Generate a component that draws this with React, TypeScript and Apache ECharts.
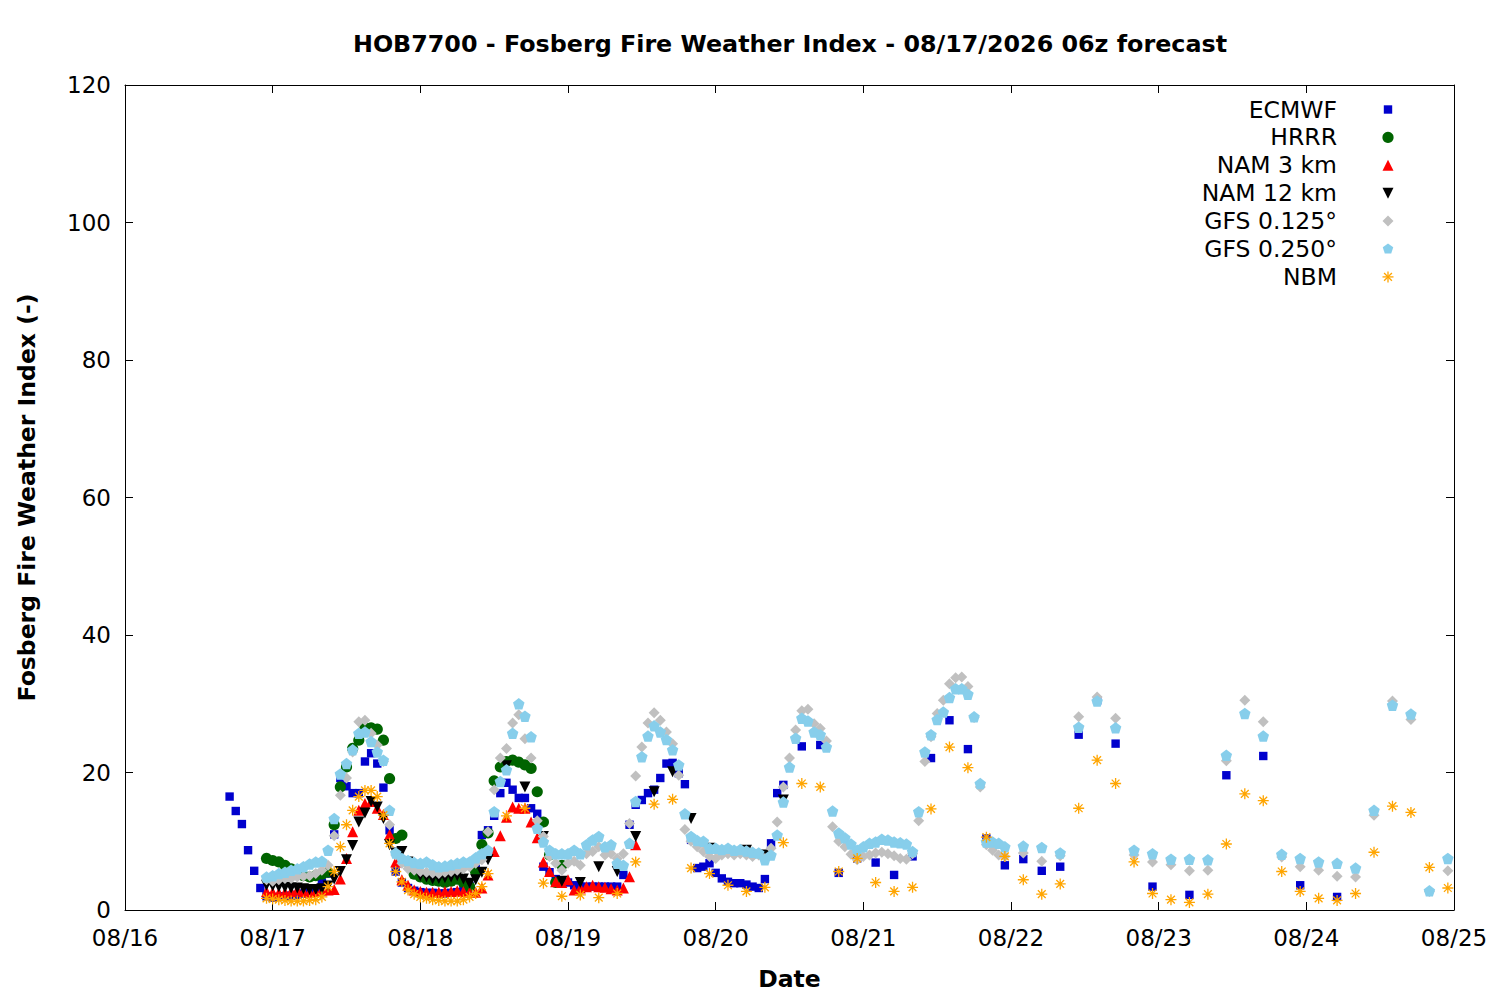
import React, { useEffect, useRef } from 'react';
import * as echarts from 'echarts';

// x values are hours since 08/16 00:00 (local)
const X_TICK_LABELS = ['08/16', '08/17', '08/18', '08/19', '08/20', '08/21', '08/22', '08/23', '08/24', '08/25'];
const TITLE = 'HOB7700 - Fosberg Fire Weather Index - 08/17/2026 06z forecast';

const NAMES = ['ECMWF', 'HRRR', 'NAM 3 km', 'NAM 12 km', 'GFS 0.125°', 'GFS 0.250°', 'NBM'];
const COLORS = ['#0000cd', '#006400', '#ff0000', '#000000', '#c0c0c0', '#87ceeb', '#ffa500'];

// ECMWF
const ECMWF_1H_START = 17;
const ECMWF_1H = [
  16.5, 14.4, 12.5, 8.7, 5.7, 3.2, 2.0, 1.8, 1.9, 2.0,
  2.1, 2.2, 2.4, 2.6, 3.0, 4.0, 5.3, 11.0, 19.2, 18.0,
  17.0, 17.0, 21.6, 22.8, 21.3, 17.8, 11.6, 5.6, 4.0, 3.2,
  2.8, 2.6, 2.5, 2.5, 2.4, 2.4, 2.5, 2.6, 3.0, 3.5,
  6.0, 10.9, 11.6, 13.7, 17.0, 18.5, 17.5, 16.3, 16.3, 14.8,
  14.0, 6.3, 5.5, 4.5, 4.0, 4.0, 3.6, 3.4, 3.4, 3.4,
  3.4, 3.4, 3.4, 3.4, 5.1, 12.4, 15.3, 16.0, 17.0, 17.5,
  19.2, 21.3, 21.4, 19.9, 18.3, 10.2, 6.1, 6.3, 6.8, 5.4,
  4.6, 4.1, 3.9, 3.9, 3.7, 3.4, 3.2, 4.5, 9.7, 17.0,
  18.2,
];
const ECMWF_3H_START = 110;
const ECMWF_3H = [23.8, 24.0, 5.4, 7.5, 6.9, 5.1, 7.8, 22.1, 27.6, 23.4, 10.4, 6.5, 7.4, 5.7, 6.3, 25.5, 30.5, 24.2];
const ECMWF_6H_START = 167;
const ECMWF_6H = [3.4, 2.2, 19.6, 22.4, 3.6, 1.9];

// HRRR
const HRRR_1H_START = 23;
const HRRR_1H = [
  7.5, 7.2, 7.0, 6.5, 6.0, 5.5, 5.0, 4.8, 5.0, 5.2,
  5.5, 12.4, 17.9, 20.8, 23.5, 24.7, 26.5, 26.5, 26.3, 24.7,
  19.1, 10.4, 10.9, 7.0, 5.2, 4.8, 4.5, 4.3, 4.2, 4.0,
  4.2, 4.5, 4.0, 3.4, 5.5, 9.5, 11.2, 18.8, 20.8, 21.6,
  21.8, 21.5, 21.1, 20.6, 17.2, 12.8, 8.0, 4.0, 6.5,
];

// NAM 3 km
const NAM3_1H_START = 23;
const NAM3_1H = [
  2.7, 2.6, 2.5, 2.6, 2.7, 2.9, 2.7, 2.6, 2.7, 2.9,
  2.9, 3.0, 4.5, 7.5, 11.4, 14.5, 15.5, 15.8, 14.8, 13.9,
  11.0, 7.0, 4.4, 3.6, 2.9, 2.7, 2.6, 2.6, 2.6, 2.7,
  2.7, 2.8, 2.7, 2.6, 2.6, 3.2, 5.1, 8.5, 10.8, 13.5,
  15.0, 14.8, 14.8, 12.8, 10.5, 7.0, 5.6, 4.1, 4.0, 4.4,
  2.9, 3.2, 3.4, 3.6, 3.4, 3.3, 3.1, 2.9, 3.2, 4.85, 9.5,
];

// NAM 12 km
const NAM12_1H_START = 23;
const NAM12_1H = [
  3.6, 3.5, 3.4, 3.3, 3.2, 3.2, 3.1, 3.0, 3.0, 3.1,
  3.5, 4.5, 5.6, 7.3, 9.4, 12.8, 14.1, 15.8, 15.0, 13.3,
  9.5, 8.3, 8.5, 7.0, 6.0, 5.0, 4.8, 4.5, 4.6, 4.7,
  4.8, 5.0, 4.5, 3.9, 4.4, 5.5, 7.3,
];
const NAM12_3H_START = 62;
const NAM12_3H = [21.0, 17.9, 10.7, 4.2, 4.0, 6.3, 5.6, 10.7, 17.2, 20.1, 13.3, 9.0, 8.5, 8.7, 8.0, 16.0];

// GFS 0.125
const GFS125_1H_START = 23;
const GFS125_1H = [
  4.4, 4.2, 4.4, 4.6, 4.6, 4.8, 4.9, 5.0, 5.3, 5.8,
  6.5, 10.8, 16.7, 19.2, 23.0, 27.4, 27.6, 25.7, 24.0, 21.6,
  12.4, 8.0, 6.8, 6.0, 5.8, 5.6, 5.5, 5.4, 5.3, 5.5,
  5.6, 5.8, 6.0, 6.3, 6.8, 7.3, 11.4, 17.5, 22.1, 23.5,
  27.2, 28.4, 24.9, 22.1, 13.0, 10.7, 7.8, 6.8, 5.8, 6.8,
  7.1, 6.5, 8.2, 8.5, 9.2, 8.0, 8.2, 7.5, 8.2, 12.6,
  19.5, 23.7, 27.2, 28.7, 27.6, 25.9, 24.2, 19.6, 11.7, 10.0,
  9.2, 8.5, 7.8, 7.5, 8.0, 8.2, 8.0, 8.2, 8.0, 7.8,
  8.0, 7.5, 9.0, 12.8, 17.9, 22.1, 26.2, 29.0, 29.2, 27.1,
  26.4, 24.6, 12.1, 10.0, 9.2, 8.1, 7.3, 7.8, 8.0, 8.3,
  8.4, 8.2, 7.9, 7.5, 7.4, 8.2, 13.0, 21.6, 25.2, 28.6,
  30.5, 32.9, 33.8, 33.9, 32.5, 28.0, 17.9, 9.5, 8.7, 8.0,
  7.8,
];
const GFS125_3H_START = 146;
const GFS125_3H = [
  8.3, 7.1, 7.9, 28.1, 31.0, 27.9, 8.0, 7.0, 6.6, 5.7, 5.8, 21.7,
  30.5, 27.4, 7.7, 6.3, 5.8, 4.9, 4.8, 13.8, 30.4, 27.7, 2.7, 5.7,
];

// GFS 0.250
const GFS250_1H_START = 23;
const GFS250_1H = [
  4.8, 5.0, 5.3, 5.5, 5.8, 6.0, 6.3, 6.7, 7.0, 7.1,
  8.7, 13.3, 19.8, 21.3, 23.3, 25.7, 25.9, 24.5, 23.0, 21.8,
  14.5, 8.3, 7.5, 7.2, 6.9, 6.8, 7.0, 6.6, 6.3, 6.4,
  6.6, 6.8, 7.0, 7.0, 7.6, 8.2, 8.7, 14.3, 18.7, 20.4,
  25.7, 30.0, 28.2, 25.2, 11.9, 9.9, 8.7, 8.2, 8.2, 8.2,
  8.7, 8.2, 9.5, 10.2, 10.7, 9.2, 9.5, 6.8, 6.5, 9.7,
  15.8, 22.3, 25.3, 26.8, 25.9, 24.8, 23.3, 21.1, 14.0, 10.7,
  10.1, 10.0, 9.0, 9.0, 8.8, 9.0, 8.7, 8.8, 8.6, 8.4,
  8.3, 7.3, 8.0, 10.9, 15.7, 20.8, 25.0, 27.9, 27.5, 25.9,
  25.5, 23.7, 14.4, 11.2, 10.5, 9.6, 8.7, 9.2, 9.7, 9.9,
  10.3, 10.2, 9.9, 9.8, 9.6, 8.5, 14.3, 23.0, 25.5, 27.7,
  28.8, 30.9, 32.2, 32.2, 31.4, 28.1, 18.4, 9.9, 9.9, 9.7,
  9.2,
];
const GFS250_3H_START = 146;
const GFS250_3H = [
  9.3, 9.1, 8.3, 26.6, 30.4, 26.5, 8.7, 8.2, 7.4, 7.4, 7.3, 22.5,
  28.6, 25.3, 8.1, 7.5, 7.0, 6.8, 6.1, 14.5, 29.8, 28.5, 2.8, 7.5,
];

// NBM
const NBM_1H_START = 23;
const NBM_1H = [
  1.7, 1.6, 1.5, 1.4, 1.3, 1.3, 1.3, 1.4, 1.5, 1.9,
  3.4, 5.6, 9.2, 12.4, 14.5, 16.5, 17.4, 17.4, 16.5, 13.8,
  9.7, 5.6, 4.1, 2.9, 2.3, 1.9, 1.7, 1.5, 1.4, 1.3,
  1.3, 1.3, 1.5, 1.9, 2.4, 3.4, 5.3,
];
const NBM_3H_START = 62;
const NBM_3H = [
  13.7, 14.8, 3.9, 2.0, 2.2, 1.8, 2.4, 7.0, 15.4, 16.1,
  6.1, 5.3, 3.6, 2.7, 3.3, 9.8, 18.4, 17.9, 5.6, 7.5,
  4.0, 2.7, 3.3, 14.7, 23.7, 20.7, 10.6, 7.8, 4.4, 2.3,
  3.8, 14.8, 21.8, 18.4, 7.0, 2.4, 1.5, 1.1, 2.3, 9.6,
  16.9, 15.9, 5.6, 2.7, 1.7, 1.4, 2.4, 8.4, 15.1, 14.2,
  6.2, 3.2,
];

const seg = (start: number, step: number, vals: number[]) => vals.map((v, i) => [start + i * step, v]);

const FONT = '"DejaVu Sans", sans-serif';
const PENTAGON = 'path://M0,-10L9.511,-3.09L5.878,8.09L-5.878,8.09L-9.511,-3.09Z';
const ASTERISK = 'path://M-10,0L10,0M0,-10L0,10M-7.07,-7.07L7.07,7.07M-7.07,7.07L7.07,-7.07';

function legendGraphics() {
  const cx = 1388;
  const textRight = 1337;
  const y0 = 109.5;
  const dy = 27.9;
  const els: any[] = [];
  NAMES.forEach((name, i) => {
    const y = y0 + i * dy;
    els.push({
      type: 'text',
      x: textRight,
      y,
      style: { text: name, font: '23.5px ' + FONT, fill: '#000', textAlign: 'right', textVerticalAlign: 'middle' },
    });
    const c = COLORS[i];
    const r = 5.5;
    if (i === 0) {
      els.push({ type: 'rect', shape: { x: cx - 4.2, y: y - 4.2, width: 8.4, height: 8.4 }, style: { fill: c } });
    } else if (i === 1) {
      els.push({ type: 'circle', shape: { cx, cy: y, r: 5.6 }, style: { fill: c } });
    } else if (i === 2) {
      els.push({ type: 'polygon', shape: { points: [[cx, y - r], [cx + r, y + r], [cx - r, y + r]] }, style: { fill: c } });
    } else if (i === 3) {
      els.push({ type: 'polygon', shape: { points: [[cx - r, y - r], [cx + r, y - r], [cx, y + r]] }, style: { fill: c } });
    } else if (i === 4) {
      els.push({ type: 'polygon', shape: { points: [[cx, y - r], [cx + r, y], [cx, y + r], [cx - r, y]] }, style: { fill: c } });
    } else if (i === 5) {
      const pts: number[][] = [];
      for (let k = 0; k < 5; k++) {
        const a = -Math.PI / 2 + (k * 2 * Math.PI) / 5;
        pts.push([cx + r * Math.cos(a), y + r * Math.sin(a)]);
      }
      els.push({ type: 'polygon', shape: { points: pts }, style: { fill: c } });
    } else {
      const d = r * 0.707;
      const lines = [
        [cx - r, y, cx + r, y],
        [cx, y - r, cx, y + r],
        [cx - d, y - d, cx + d, y + d],
        [cx - d, y + d, cx + d, y - d],
      ];
      lines.forEach((l) => {
        els.push({ type: 'line', shape: { x1: l[0], y1: l[1], x2: l[2], y2: l[3] }, style: { stroke: c, lineWidth: 1.3 } });
      });
    }
  });
  return els;
}

export default function App() {
  const ref = useRef<HTMLDivElement>(null);
  useEffect(() => {
    if (!ref.current) return;
    const chart = echarts.init(ref.current, undefined, { renderer: 'svg' });
    const common = { type: 'scatter', animation: false };
    const style = (c: string) => ({ color: c, opacity: 1 });
    const series: any[] = [
      { ...common, name: NAMES[0], symbol: 'rect', symbolSize: 8.4, itemStyle: style(COLORS[0]),
        data: [...seg(ECMWF_1H_START, 1, ECMWF_1H), ...seg(ECMWF_3H_START, 3, ECMWF_3H), ...seg(ECMWF_6H_START, 6, ECMWF_6H)] },
      { ...common, name: NAMES[1], symbol: 'circle', symbolSize: 11.2, itemStyle: style(COLORS[1]),
        data: seg(HRRR_1H_START, 1, HRRR_1H) },
      { ...common, name: NAMES[2], symbol: 'triangle', symbolSize: 11, itemStyle: style(COLORS[2]),
        data: seg(NAM3_1H_START, 1, NAM3_1H) },
      { ...common, name: NAMES[3], symbol: 'triangle', symbolRotate: 180, symbolSize: 11, itemStyle: style(COLORS[3]),
        data: [...seg(NAM12_1H_START, 1, NAM12_1H), ...seg(NAM12_3H_START, 3, NAM12_3H)] },
      { ...common, name: NAMES[4], symbol: 'diamond', symbolSize: 11, itemStyle: style(COLORS[4]),
        data: [...seg(GFS125_1H_START, 1, GFS125_1H), ...seg(GFS125_3H_START, 3, GFS125_3H)] },
      { ...common, name: NAMES[5], symbol: PENTAGON, symbolSize: 11.5, itemStyle: style(COLORS[5]),
        data: [...seg(GFS250_1H_START, 1, GFS250_1H), ...seg(GFS250_3H_START, 3, GFS250_3H)] },
      { ...common, name: NAMES[6], symbol: ASTERISK, symbolSize: 11,
        itemStyle: { color: 'rgba(0,0,0,0)', borderColor: COLORS[6], borderWidth: 1.3, opacity: 1 },
        data: [...seg(NBM_1H_START, 1, NBM_1H), ...seg(NBM_3H_START, 3, NBM_3H)] },
    ];
    const axisLine = { show: true, onZero: false, lineStyle: { color: '#000', width: 1 } };
    const tick = { show: true, inside: true, length: 8, lineStyle: { color: '#000', width: 1 } };
    chart.setOption({
      animation: false,
      backgroundColor: '#fff',
      textStyle: { fontFamily: FONT },
      title: {
        text: TITLE, left: 785, top: 27, textAlign: 'center',
        textStyle: { fontFamily: FONT, fontSize: 23.8, fontWeight: 'bold', color: '#000' },
      },
      grid: { left: 125, right: 46, top: 85, bottom: 90, containLabel: false },
      xAxis: [
        {
          type: 'value', min: 0, max: 216, interval: 24, position: 'bottom',
          name: 'Date', nameLocation: 'middle', nameGap: 57,
          nameTextStyle: { fontFamily: FONT, fontSize: 23.5, fontWeight: 'bold', color: '#000' },
          axisLine, axisTick: tick, splitLine: { show: false },
          axisLabel: { margin: 16, fontSize: 23, fontFamily: FONT, color: '#000', formatter: (v: number) => X_TICK_LABELS[Math.round(v / 24)] },
        },
        {
          type: 'value', min: 0, max: 216, interval: 24, position: 'top',
          axisLine, axisTick: tick, splitLine: { show: false }, axisLabel: { show: false },
        },
      ],
      yAxis: [
        {
          type: 'value', min: 0, max: 120, interval: 20, position: 'left',
          name: 'Fosberg Fire Weather Index (-)', nameLocation: 'middle', nameGap: 86, nameRotate: 90,
          nameTextStyle: { fontFamily: FONT, fontSize: 23.5, fontWeight: 'bold', color: '#000' },
          axisLine, axisTick: tick, splitLine: { show: false },
          axisLabel: { margin: 14, fontSize: 23, fontFamily: FONT, color: '#000' },
        },
        {
          type: 'value', min: 0, max: 120, interval: 20, position: 'right',
          axisLine, axisTick: tick, splitLine: { show: false }, axisLabel: { show: false },
        },
      ],
      graphic: legendGraphics(),
      series,
    });
    return () => chart.dispose();
  }, []);
  return <div ref={ref} style={{ position: 'absolute', left: 0, top: 0, width: 1500, height: 1000 }} />;
}
